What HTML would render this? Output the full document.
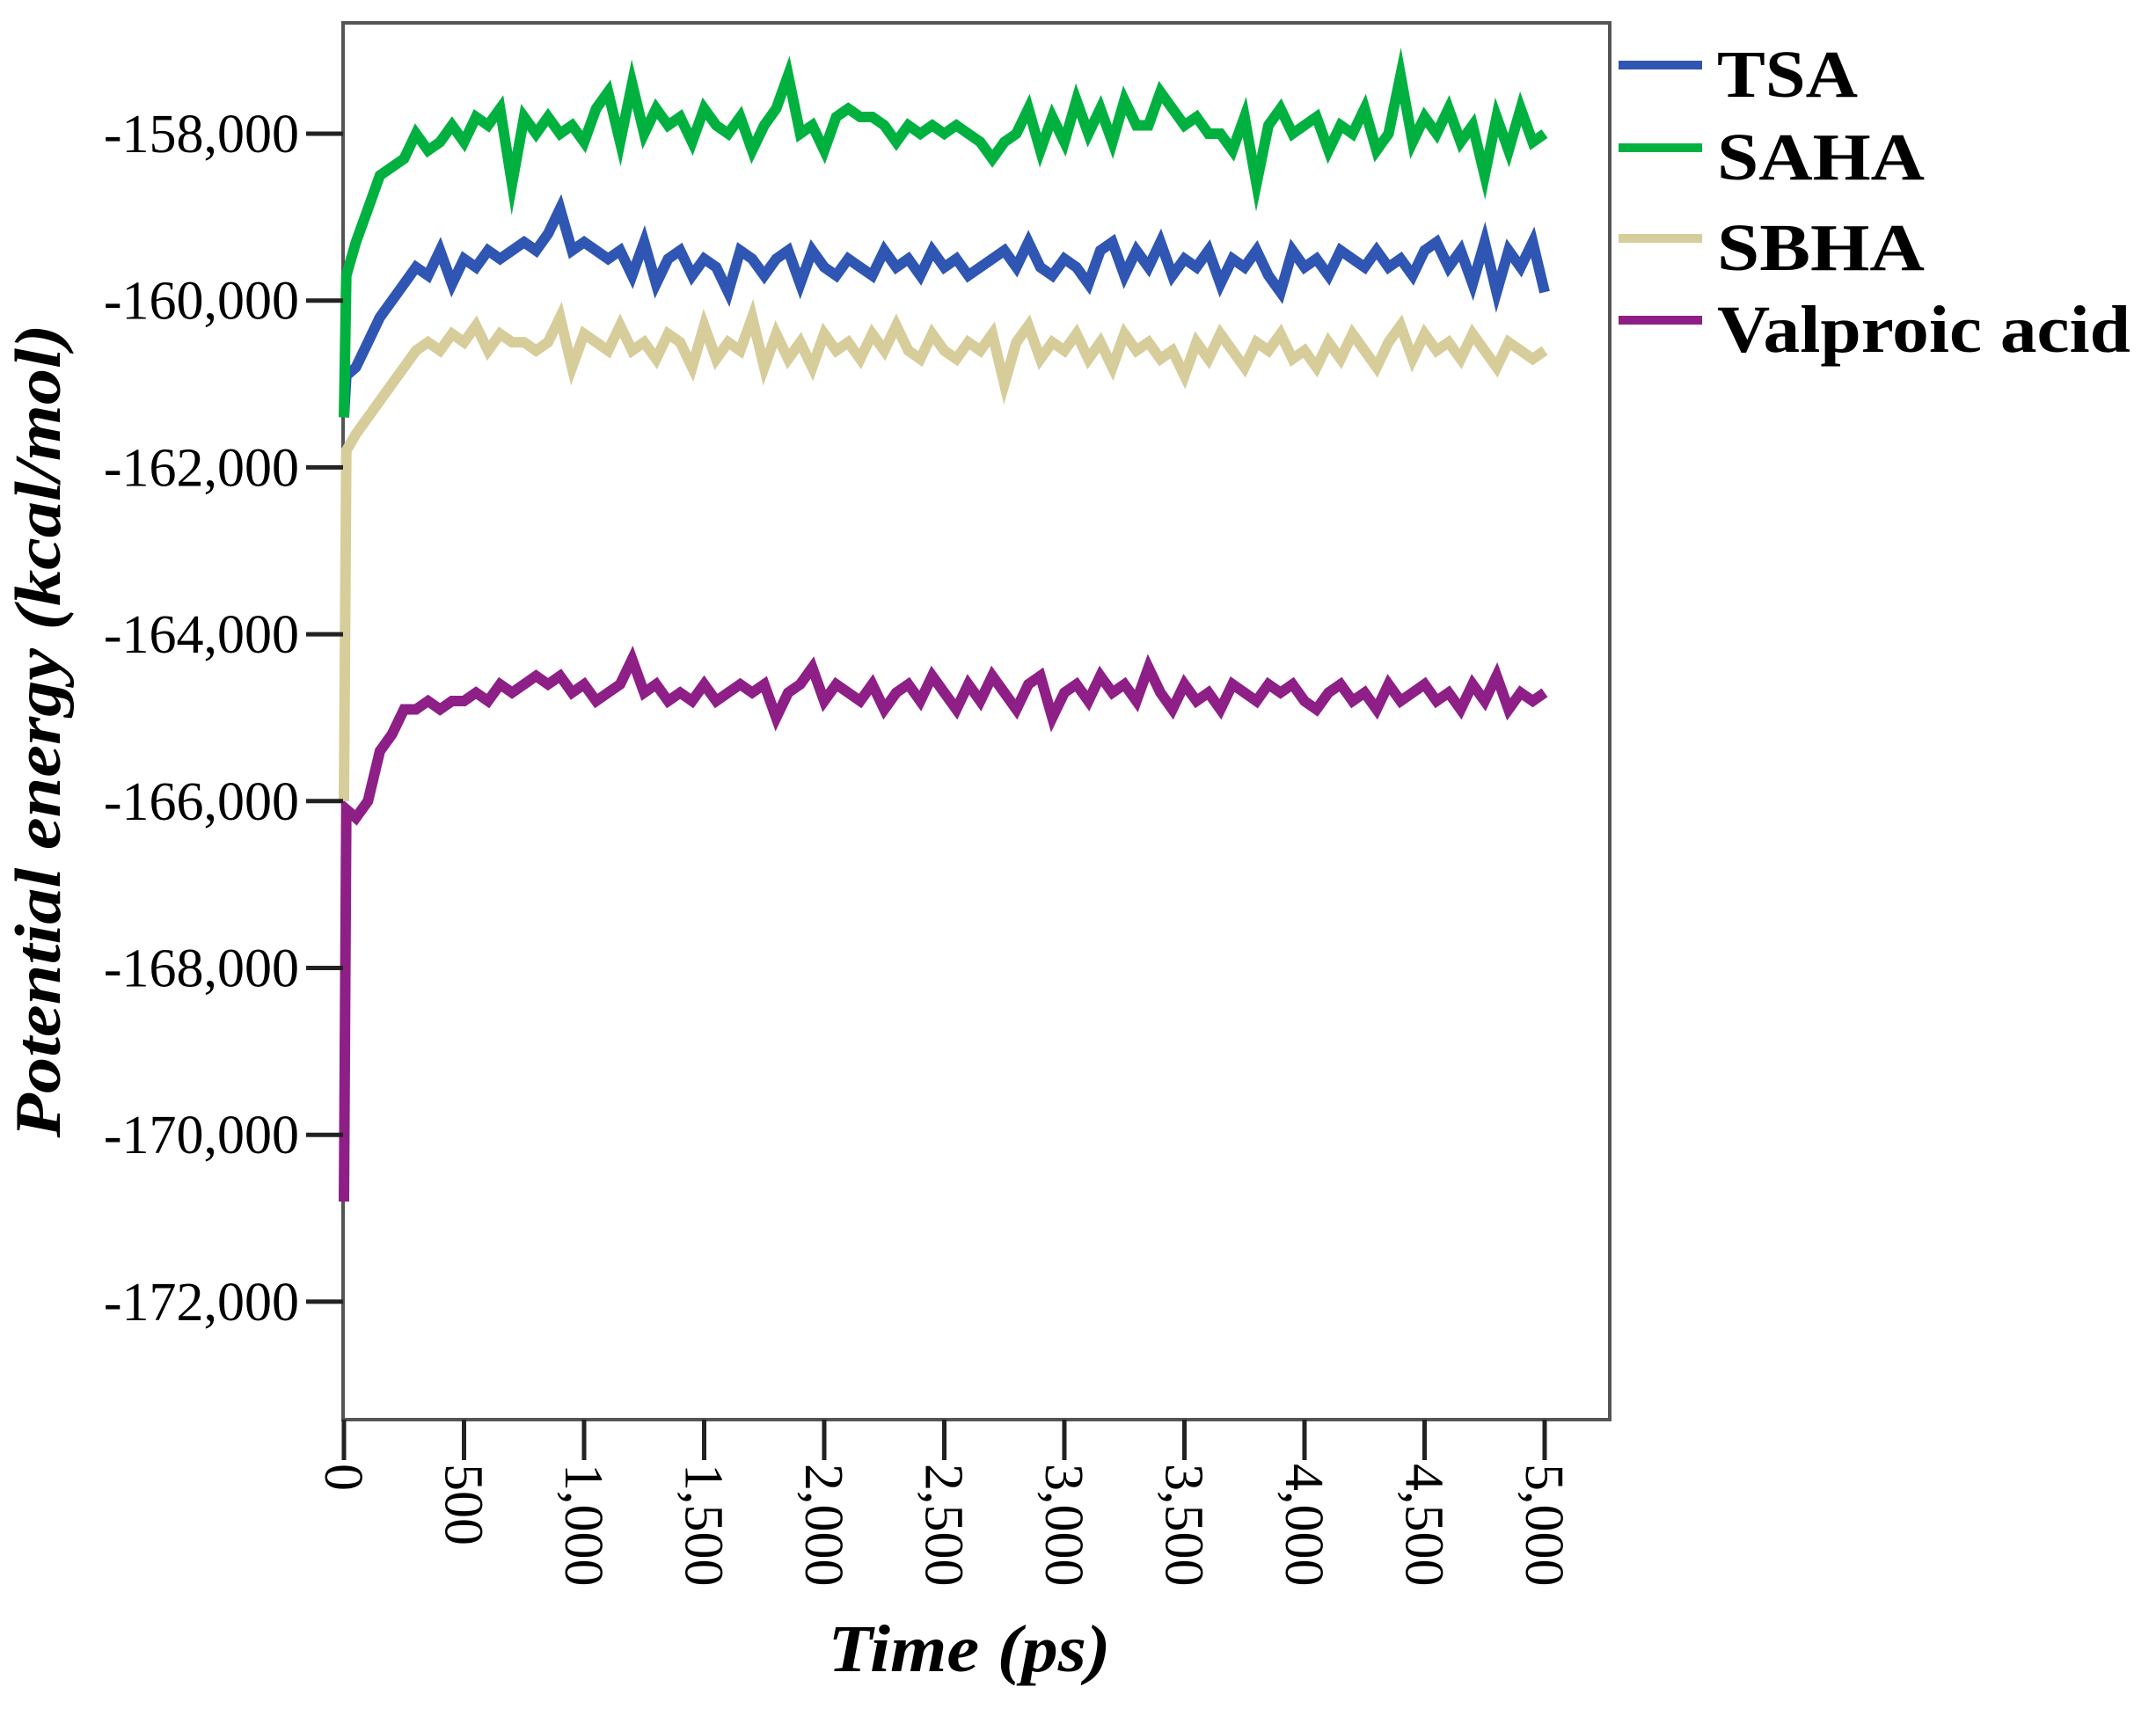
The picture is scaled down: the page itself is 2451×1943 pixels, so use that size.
<!DOCTYPE html>
<html><head><meta charset="utf-8"><style>
html,body{margin:0;padding:0;background:#fff;}
svg{display:block;font-family:"Liberation Serif",serif;}
</style></head><body>
<svg id="chart" width="2451" height="1943" viewBox="0 0 2451 1943" xmlns="http://www.w3.org/2000/svg">
<rect x="0" y="0" width="2451" height="1943" fill="#fff"/>
<rect x="390" y="26" width="1440" height="1588" fill="#fff" stroke="#555" stroke-width="4"/>
<g id="series"></g>
<g id="axes"></g>
<text transform="translate(68,831) rotate(-90)" text-anchor="middle" font-size="74" font-weight="bold" font-style="italic" textLength="925" lengthAdjust="spacingAndGlyphs">Potential energy (kcal/mol)</text>
<text x="1102" y="1900" text-anchor="middle" font-size="76" font-weight="bold" font-style="italic" textLength="321" lengthAdjust="spacingAndGlyphs">Time (ps)</text>
<g id="legend"></g>
</svg>
<script>
const times=[0,10,50,100,150,200,250,300,350,400,450,500,550,600,650,700,750,800,850,900,950,1000,1050,1100,1150,1200,1250,1300,1350,1400,1450,1500,1550,1600,1650,1700,1750,1800,1850,1900,1950,2000,2050,2100,2150,2200,2250,2300,2350,2400,2450,2500,2550,2600,2650,2700,2750,2800,2850,2900,2950,3000,3050,3100,3150,3200,3250,3300,3350,3400,3450,3500,3550,3600,3650,3700,3750,3800,3850,3900,3950,4000,4050,4100,4150,4200,4250,4300,4350,4400,4450,4500,4550,4600,4650,4700,4750,4800,4850,4900,4950,5000];
const saha=[-161400,-159700,-159300,-158900,-158500,-158400,-158300,-158000,-158200,-158100,-157900,-158100,-157800,-157900,-157700,-158600,-157800,-158000,-157800,-158000,-157900,-158100,-157700,-157500,-158100,-157400,-158000,-157700,-157900,-157800,-158100,-157700,-157900,-158000,-157800,-158200,-157900,-157700,-157300,-158000,-157900,-158200,-157800,-157700,-157800,-157800,-157900,-158100,-157900,-158000,-157900,-158000,-157900,-158000,-158100,-158300,-158100,-158000,-157700,-158200,-157800,-158100,-157600,-158000,-157700,-158100,-157600,-157900,-157900,-157500,-157700,-157900,-157800,-158000,-158000,-158200,-157800,-158600,-157900,-157700,-158000,-157900,-157800,-158200,-157900,-158000,-157700,-158200,-158000,-157300,-158100,-157800,-158000,-157700,-158100,-157900,-158500,-157800,-158200,-157700,-158100,-158000];
const tsa=[-161400,-160900,-160800,-160500,-160200,-160000,-159800,-159600,-159700,-159400,-159800,-159500,-159600,-159400,-159500,-159400,-159300,-159400,-159200,-158900,-159400,-159300,-159400,-159500,-159400,-159700,-159300,-159800,-159500,-159400,-159700,-159500,-159600,-159900,-159400,-159500,-159700,-159500,-159400,-159800,-159400,-159600,-159700,-159500,-159600,-159700,-159400,-159600,-159500,-159700,-159400,-159600,-159500,-159700,-159600,-159500,-159400,-159600,-159300,-159600,-159700,-159500,-159600,-159800,-159400,-159300,-159700,-159400,-159600,-159300,-159700,-159500,-159600,-159400,-159800,-159500,-159600,-159400,-159700,-159900,-159400,-159600,-159500,-159700,-159400,-159500,-159600,-159400,-159600,-159500,-159700,-159400,-159300,-159600,-159400,-159800,-159300,-159900,-159400,-159600,-159300,-159900];
const sbha=[-166000,-161800,-161600,-161400,-161200,-161000,-160800,-160600,-160500,-160600,-160400,-160500,-160300,-160600,-160400,-160500,-160500,-160600,-160500,-160200,-160800,-160400,-160500,-160600,-160300,-160600,-160500,-160700,-160400,-160500,-160800,-160300,-160700,-160500,-160600,-160200,-160800,-160400,-160700,-160500,-160800,-160400,-160600,-160500,-160700,-160400,-160600,-160300,-160600,-160700,-160400,-160600,-160700,-160500,-160600,-160400,-161000,-160500,-160300,-160700,-160500,-160600,-160400,-160700,-160500,-160800,-160400,-160600,-160500,-160700,-160600,-160900,-160500,-160700,-160400,-160600,-160800,-160500,-160600,-160400,-160700,-160600,-160800,-160500,-160700,-160400,-160600,-160800,-160500,-160300,-160700,-160400,-160600,-160500,-160700,-160400,-160600,-160800,-160500,-160600,-160700,-160600];
const valproic=[-170800,-166100,-166200,-166000,-165400,-165200,-164900,-164900,-164800,-164900,-164800,-164800,-164700,-164800,-164600,-164700,-164600,-164500,-164600,-164500,-164700,-164600,-164800,-164700,-164600,-164300,-164700,-164600,-164800,-164700,-164800,-164600,-164800,-164700,-164600,-164700,-164600,-165000,-164700,-164600,-164400,-164800,-164600,-164700,-164800,-164600,-164900,-164700,-164600,-164800,-164500,-164700,-164900,-164600,-164800,-164500,-164700,-164900,-164600,-164500,-165000,-164700,-164600,-164800,-164500,-164700,-164600,-164800,-164400,-164700,-164900,-164600,-164800,-164700,-164900,-164600,-164700,-164800,-164600,-164700,-164600,-164800,-164900,-164700,-164600,-164800,-164700,-164900,-164600,-164800,-164700,-164600,-164800,-164700,-164900,-164600,-164800,-164500,-164900,-164700,-164800,-164700];
const seriesNames=["TSA","SAHA","SBHA","Valproic acid"];
const yTicks=[-158000,-160000,-162000,-164000,-166000,-168000,-170000,-172000];
const yTickLabels=["-158,000","-160,000","-162,000","-164,000","-166,000","-168,000","-170,000","-172,000"];
const xTicks=[0,500,1000,1500,2000,2500,3000,3500,4000,4500,5000];
const xTickLabels=["0","500","1,000","1,500","2,000","2,500","3,000","3,500","4,000","4,500","5,000"];

const NS="http://www.w3.org/2000/svg";
function xs(t){return 391+t/500*136.5;}
function ys(v){return 152+(-158000-v)/2000*189.7;}
function mk(tag,attrs,parent){const e=document.createElementNS(NS,tag);for(const k in attrs)e.setAttribute(k,attrs[k]);parent.appendChild(e);return e;}

const seriesData=[tsa,saha,sbha,valproic];
const colors=["#2f56b3","#00b140","#d7cd9b","#8d1f87"];
const keys=["tsa","saha","sbha","valproic-acid"];
const sg=document.getElementById("series");
[3,2,0,1].forEach(i=>{
  const d=seriesData[i].map((v,j)=>(j?"L":"M")+xs(times[j]).toFixed(1)+","+ys(v).toFixed(1)).join("");
  const p=mk("path",{d:d,fill:"none",stroke:colors[i],"stroke-width":12,"stroke-linejoin":"miter","stroke-miterlimit":6},sg);
  
  
});

const ag=document.getElementById("axes");
yTicks.forEach((v,i)=>{
  const y=ys(v);
  const l=mk("line",{x1:348,x2:390,y1:y,y2:y,stroke:"#222","stroke-width":5},ag);
  
  
  const t=mk("text",{x:340,y:y+21,"text-anchor":"end","font-size":62},ag);
  t.textContent=yTickLabels[i];
  
  
});
xTicks.forEach((v,i)=>{
  const x=xs(v);
  const l=mk("line",{x1:x,x2:x,y1:1614,y2:1660,stroke:"#222","stroke-width":5},ag);
  
  
  const t=mk("text",{transform:"translate("+(x-21)+",1664) rotate(90)","text-anchor":"start","font-size":62},ag);
  t.textContent=xTickLabels[i];
  
  
});

const lg=document.getElementById("legend");
const legY=[74,168,271,364];
const legW=[160,236,236,470];
seriesNames.forEach((n,i)=>{
  const g=mk("g",{},lg);
  
  
  const l=mk("line",{x1:1840,x2:1935,y1:legY[i],y2:legY[i],stroke:colors[i],"stroke-width":10},g);
  
  
  const t=mk("text",{x:1952,y:legY[i]+36,"font-size":76,"font-weight":"bold",textLength:legW[i],lengthAdjust:"spacingAndGlyphs"},g);
  t.textContent=n;
  
  
});
</script>
</body></html>
